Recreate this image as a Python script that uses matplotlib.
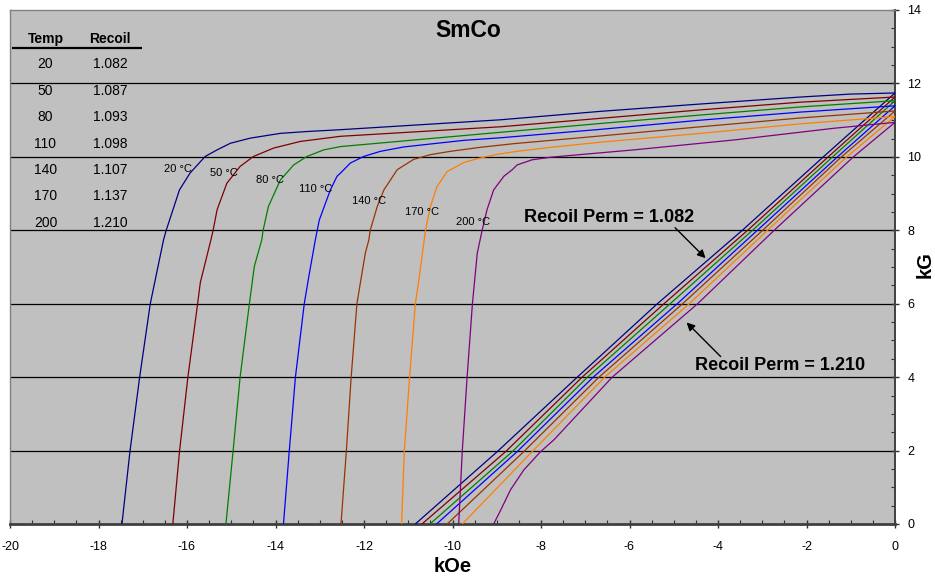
import matplotlib
matplotlib.use("Agg")
import matplotlib.pyplot as plt
from matplotlib.ticker import MultipleLocator

plt.rcParams['font.family'] = ['Liberation Sans', 'DejaVu Sans']
plt.rcParams['axes.unicode_minus'] = False

# ---- data -------------------------------------------------------------
temps = [20, 50, 80, 110, 140, 170, 200]
recoil = [1.082, 1.087, 1.093, 1.098, 1.107, 1.137, 1.210]
colors = ['#000080', '#800000', '#008000', '#0000FF', '#993300', '#FF7F00', '#800080']

# intrinsic demagnetisation curves, H in kOe, J in kG
h_int_20 = [-17.47, -17.29, -17.07, -16.83, -16.53, -16.47, -16.17, -15.93, -15.59, -15.32,
            -15.02, -14.57, -13.89, -13.29, -12.53, -8.91, -6.65, -4.39, -2.13, -1.00, 0.0]
j_int_20 = [0.0, 1.97, 4.00, 6.00, 7.74, 8.00, 9.10, 9.56, 10.01, 10.19,
            10.37, 10.51, 10.64, 10.69, 10.74, 11.01, 11.24, 11.44, 11.63, 11.71, 11.74]

h_int_50 = [-16.32, -16.17, -15.98, -15.76, -15.70, -15.46, -15.41, -15.32, -15.10, -14.80,
            -14.50, -14.04, -13.44, -12.53, -8.91, -6.65, -4.39, -2.13, 0.0]
j_int_50 = [0.0, 1.97, 4.00, 6.00, 6.57, 7.74, 8.00, 8.56, 9.28, 9.74,
            10.01, 10.24, 10.42, 10.56, 10.82, 11.05, 11.28, 11.49, 11.63]

h_int_80 = [-15.12, -14.96, -14.80, -14.59, -14.48, -14.31, -14.28, -14.16, -13.89, -13.59,
            -13.29, -12.91, -12.53, -8.91, -6.65, -4.39, -2.13, 0.0]
j_int_80 = [0.0, 1.97, 4.00, 6.00, 7.01, 7.74, 8.00, 8.65, 9.37, 9.78,
            10.01, 10.19, 10.28, 10.67, 10.91, 11.14, 11.36, 11.53]

h_int_110 = [-13.82, -13.69, -13.55, -13.35, -13.25, -13.10, -13.01, -12.87, -12.76, -12.61,
             -12.53, -12.31, -12.01, -11.63, -11.10, -10.50, -9.74, -8.91, -6.65,
             -4.39, -2.13, 0.0]
j_int_110 = [0.0, 1.97, 4.00, 6.00, 6.72, 7.74, 8.28, 8.74, 9.10, 9.47,
             9.56, 9.83, 10.01, 10.15, 10.27, 10.35, 10.45, 10.52, 10.75,
             11.00, 11.22, 11.39]

h_int_140 = [-12.52, -12.40, -12.29, -12.16, -11.97, -11.89, -11.86, -11.70, -11.55, -11.25,
             -10.88, -10.50, -10.05, -9.37, -8.61, -6.65, -4.39, -2.13, 0.0]
j_int_140 = [0.0, 1.97, 4.00, 6.00, 7.38, 7.74, 8.00, 8.65, 9.10, 9.65,
             9.93, 10.06, 10.15, 10.26, 10.36, 10.57, 10.82, 11.06, 11.25]

h_int_170 = [-11.15, -11.09, -10.97, -10.84, -10.76, -10.61, -10.50, -10.35, -10.12, -9.74,
             -9.37, -8.99, -8.54, -7.78, -6.65, -4.39, -2.13, 0.0]
j_int_170 = [0.0, 1.97, 4.00, 6.00, 6.65, 8.00, 8.65, 9.19, 9.60, 9.85,
             9.97, 10.07, 10.15, 10.26, 10.40, 10.64, 10.90, 11.10]

h_int_200 = [-9.86, -9.78, -9.67, -9.55, -9.44, -9.33, -9.22, -9.07, -8.84, -8.65,
             -8.54, -8.20, -7.78, -7.41, -5.90, -3.64, -1.37, 0.0]
j_int_200 = [0.0, 1.97, 4.00, 6.00, 7.38, 8.00, 8.56, 9.10, 9.47, 9.65,
             9.78, 9.92, 9.99, 10.03, 10.19, 10.46, 10.78, 10.94]

# normal (B-H) curves, H in kOe, B in kG
h_norm_20 = [-10.84, -8.99, -7.18, -5.37, -3.45, -1.62, 0.0]
b_norm_20 = [0.0, 1.97, 4.00, 6.00, 8.00, 10.00, 11.74]

h_norm_50 = [-10.69, -8.80, -7.07, -5.22, -3.33, -1.51, 0.0]
b_norm_50 = [0.0, 1.97, 4.00, 6.00, 8.00, 10.00, 11.63]

h_norm_80 = [-10.51, -8.65, -6.95, -5.08, -3.22, -1.41, 0.0]
b_norm_80 = [0.0, 1.97, 4.00, 6.00, 8.00, 10.00, 11.53]

h_norm_110 = [-10.36, -8.54, -6.82, -4.92, -3.11, -1.30, 0.0]
b_norm_110 = [0.0, 1.97, 4.00, 6.00, 8.00, 10.00, 11.39]

h_norm_140 = [-10.12, -8.39, -6.69, -4.80, -2.99, -1.21, 0.0]
b_norm_140 = [0.0, 1.97, 4.00, 6.00, 8.00, 10.00, 11.25]

h_norm_170 = [-9.78, -8.20, -6.56, -4.65, -2.88, -1.09, 0.0]
b_norm_170 = [0.0, 1.97, 4.00, 6.00, 8.00, 10.00, 11.10]

h_norm_200 = [-9.07, -8.91, -8.69, -8.39, -8.01, -7.71, -6.39, -4.46, -2.73, -0.94, 0.0]
b_norm_200 = [0.0, 0.38, 0.93, 1.47, 1.97, 2.29, 4.00, 6.00, 8.00, 10.00, 10.94]

intrinsic = [(h_int_20, j_int_20), (h_int_50, j_int_50), (h_int_80, j_int_80),
             (h_int_110, j_int_110), (h_int_140, j_int_140), (h_int_170, j_int_170),
             (h_int_200, j_int_200)]
normal = [(h_norm_20, b_norm_20), (h_norm_50, b_norm_50), (h_norm_80, b_norm_80),
          (h_norm_110, b_norm_110), (h_norm_140, b_norm_140), (h_norm_170, b_norm_170),
          (h_norm_200, b_norm_200)]

# curve label anchor points (data coordinates)
label_pos = [(-16.20, 9.67), (-15.16, 9.56), (-14.12, 9.37), (-13.10, 9.13),
             (-11.88, 8.80), (-10.69, 8.50), (-9.53, 8.23)]

# ---- figure -----------------------------------------------------------
W, H = 935, 580
fig = plt.figure(figsize=(W / 100, H / 100), dpi=100)
x0, x1, y_top, y_bot = 10, 895, 10, 524
ax = fig.add_axes([x0 / W, (H - y_bot) / H, (x1 - x0) / W, (y_bot - y_top) / H])
ax.set_facecolor('#C0C0C0')
ax.set_xlim(-20, 0)
ax.set_ylim(0, 14)

ax.xaxis.set_major_locator(MultipleLocator(2))
ax.xaxis.set_minor_locator(MultipleLocator(0.5))
ax.yaxis.set_major_locator(MultipleLocator(2))
ax.yaxis.set_minor_locator(MultipleLocator(0.5))
ax.yaxis.tick_right()

for y in range(2, 14, 2):
    ax.axhline(y, color='black', lw=0.9, zorder=1)

for s in ('top', 'left'):
    ax.spines[s].set_color('#808080')
    ax.spines[s].set_linewidth(1.0)
ax.spines['right'].set_color('#404040')
ax.spines['right'].set_linewidth(1.4)
ax.spines['bottom'].set_color('#404040')
ax.spines['bottom'].set_linewidth(2.0)

ax.tick_params(axis='both', which='major', direction='inout', length=6, width=1.0,
               color='#303030', labelsize=9)
ax.tick_params(axis='both', which='minor', direction='in', length=3, width=0.8,
               color='#303030')
ax.tick_params(axis='x', which='major', pad=9)
ax.tick_params(axis='y', which='major', pad=6)

for (hx, jy), (hn, bn), c in zip(intrinsic, normal, colors):
    ax.plot(hx, jy, color=c, lw=0.9, zorder=3)
    ax.plot(hn, bn, color=c, lw=0.9, zorder=3)

for t, (lx, ly) in zip(temps, label_pos):
    ax.text(lx, ly, f"{t} °C", fontsize=8, ha='center', va='center', zorder=4)

# title inside the plot area
ax.text(0.5175, 0.961, "SmCo", transform=ax.transAxes, fontsize=16.5,
        fontweight='bold', ha='center', va='center')

# recoil permeability table
ax.text(0.0401, 0.9436, "Temp", transform=ax.transAxes, fontsize=10,
        fontweight='bold', ha='center', va='center')
ax.text(0.1130, 0.9436, "Recoil", transform=ax.transAxes, fontsize=10,
        fontweight='bold', ha='center', va='center')
ax.plot([0.002, 0.1488], [0.9267, 0.9267], transform=ax.transAxes,
        color='black', lw=1.6, solid_capstyle='butt', clip_on=False)
for i, (t, r) in enumerate(zip(temps, recoil)):
    yy = (y_bot - (64.3 + 26.4 * i)) / (y_bot - y_top)
    ax.text(0.0401, yy, f"{t}", transform=ax.transAxes, fontsize=10,
            ha='center', va='center')
    ax.text(0.1130, yy, f"{r:.3f}", transform=ax.transAxes, fontsize=10,
            ha='center', va='center')

# recoil permeability call-outs
arrow = dict(arrowstyle='-|>', color='black', lw=1.0, mutation_scale=12,
             shrinkA=0, shrinkB=0)
ax.text(-6.47, 8.35, f"Recoil Perm = {recoil[0]:.3f}", fontsize=13,
        fontweight='bold', ha='center', va='center')
ax.annotate("", xy=(-4.28, 7.24), xytext=(-4.97, 8.07), arrowprops=arrow)
ax.text(-2.59, 4.32, f"Recoil Perm = {recoil[-1]:.3f}", fontsize=13,
        fontweight='bold', ha='center', va='center')
ax.annotate("", xy=(-4.71, 5.49), xytext=(-3.94, 4.56), arrowprops=arrow)

# axis titles
fig.text(453 / W, 1 - 567 / H, "kOe", fontsize=14.5, fontweight='bold',
         ha='center', va='center')
fig.text(925 / W, 1 - 265 / H, "kG", fontsize=14.5, fontweight='bold',
         ha='center', va='center', rotation=90)

fig.savefig("out.png", dpi=100, facecolor='white')
